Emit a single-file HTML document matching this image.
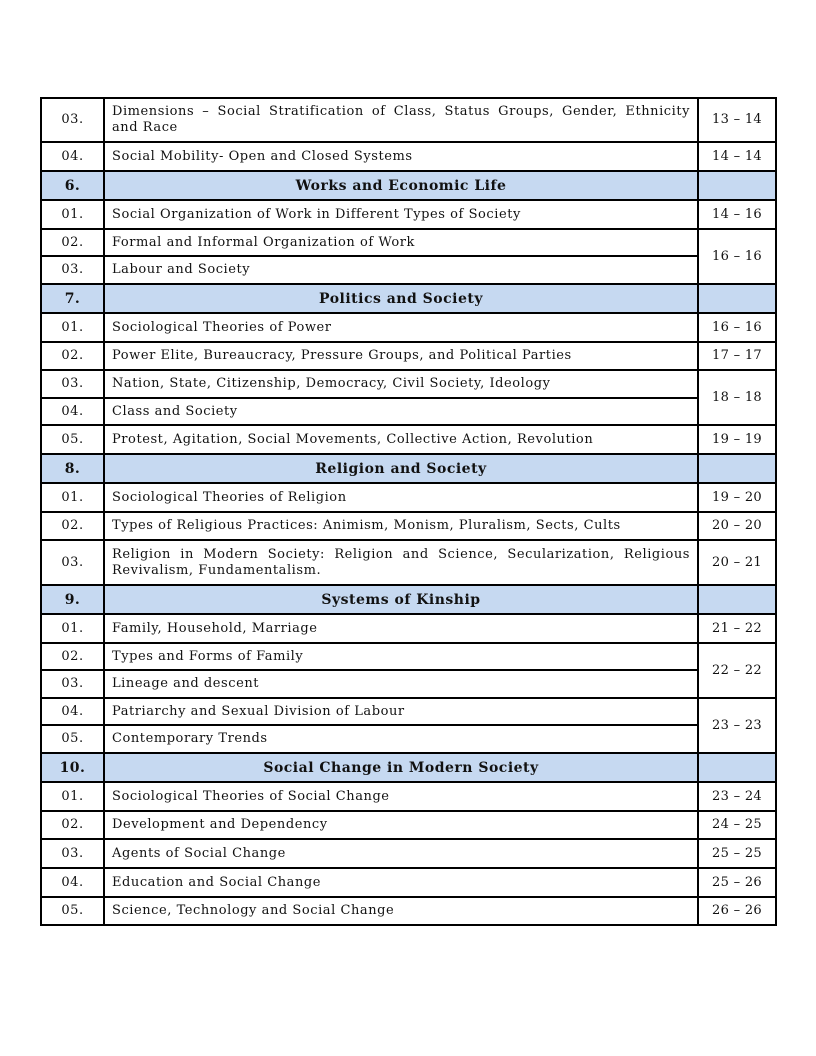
<!DOCTYPE html>
<html><head><meta charset="utf-8"><style>
body{margin:0;background:#fff;width:816px;height:1056px;position:relative;font-family:"DejaVu Serif","Liberation Serif",serif;}
table{position:absolute;left:40px;top:97px;width:735px;border-collapse:collapse;table-layout:fixed;font-size:13px;letter-spacing:0.55px;color:#111;}
td{border:2px solid #000;padding:0 7px;line-height:16px;}
td.n{text-align:center;}
td.p{text-align:center;letter-spacing:0.3px;}
td.j{text-align:justify;text-align-last:left;}
span.l{display:block;text-align:justify;text-align-last:justify;}
tr.h td{background:#c6d9f1;font-weight:bold;text-align:center;font-size:14px;letter-spacing:0.5px;}
</style></head><body>
<table>
<colgroup><col style="width:63px"><col style="width:594px"><col style="width:78px"></colgroup>
<tr style="height:44px"><td class="n">03.</td><td><span class="l">Dimensions – Social Stratification of Class, Status Groups, Gender, Ethnicity</span>and Race</td><td class="p">13 – 14</td></tr>
<tr style="height:29px"><td class="n">04.</td><td>Social Mobility- Open and Closed Systems</td><td class="p">14 – 14</td></tr>
<tr class="h" style="height:29px"><td>6.</td><td>Works and Economic Life</td><td></td></tr>
<tr style="height:29px"><td class="n">01.</td><td>Social Organization of Work in Different Types of Society</td><td class="p">14 – 16</td></tr>
<tr style="height:27px"><td class="n">02.</td><td>Formal and Informal Organization of Work</td><td class="p" rowspan="2">16 – 16</td></tr>
<tr style="height:28px"><td class="n">03.</td><td>Labour and Society</td></tr>
<tr class="h" style="height:29px"><td>7.</td><td>Politics and Society</td><td></td></tr>
<tr style="height:29px"><td class="n">01.</td><td>Sociological Theories of Power</td><td class="p">16 – 16</td></tr>
<tr style="height:28px"><td class="n">02.</td><td>Power Elite, Bureaucracy, Pressure Groups, and Political Parties</td><td class="p">17 – 17</td></tr>
<tr style="height:28px"><td class="n">03.</td><td>Nation, State, Citizenship, Democracy, Civil Society, Ideology</td><td class="p" rowspan="2">18 – 18</td></tr>
<tr style="height:27px"><td class="n">04.</td><td>Class and Society</td></tr>
<tr style="height:29px"><td class="n">05.</td><td>Protest, Agitation, Social Movements, Collective Action, Revolution</td><td class="p">19 – 19</td></tr>
<tr class="h" style="height:29px"><td>8.</td><td>Religion and Society</td><td></td></tr>
<tr style="height:29px"><td class="n">01.</td><td>Sociological Theories of Religion</td><td class="p">19 – 20</td></tr>
<tr style="height:28px"><td class="n">02.</td><td>Types of Religious Practices: Animism, Monism, Pluralism, Sects, Cults</td><td class="p">20 – 20</td></tr>
<tr style="height:45px"><td class="n">03.</td><td><span class="l">Religion in Modern Society: Religion and Science, Secularization, Religious</span>Revivalism, Fundamentalism.</td><td class="p">20 – 21</td></tr>
<tr class="h" style="height:29px"><td>9.</td><td>Systems of Kinship</td><td></td></tr>
<tr style="height:29px"><td class="n">01.</td><td>Family, Household, Marriage</td><td class="p">21 – 22</td></tr>
<tr style="height:27px"><td class="n">02.</td><td>Types and Forms of Family</td><td class="p" rowspan="2">22 – 22</td></tr>
<tr style="height:28px"><td class="n">03.</td><td>Lineage and descent</td></tr>
<tr style="height:27px"><td class="n">04.</td><td>Patriarchy and Sexual Division of Labour</td><td class="p" rowspan="2">23 – 23</td></tr>
<tr style="height:28px"><td class="n">05.</td><td>Contemporary Trends</td></tr>
<tr class="h" style="height:29px"><td>10.</td><td>Social Change in Modern Society</td><td></td></tr>
<tr style="height:29px"><td class="n">01.</td><td>Sociological Theories of Social Change</td><td class="p">23 – 24</td></tr>
<tr style="height:28px"><td class="n">02.</td><td>Development and Dependency</td><td class="p">24 – 25</td></tr>
<tr style="height:29px"><td class="n">03.</td><td>Agents of Social Change</td><td class="p">25 – 25</td></tr>
<tr style="height:29px"><td class="n">04.</td><td>Education and Social Change</td><td class="p">25 – 26</td></tr>
<tr style="height:28px"><td class="n">05.</td><td>Science, Technology and Social Change</td><td class="p">26 – 26</td></tr>
</table>
</body></html>
